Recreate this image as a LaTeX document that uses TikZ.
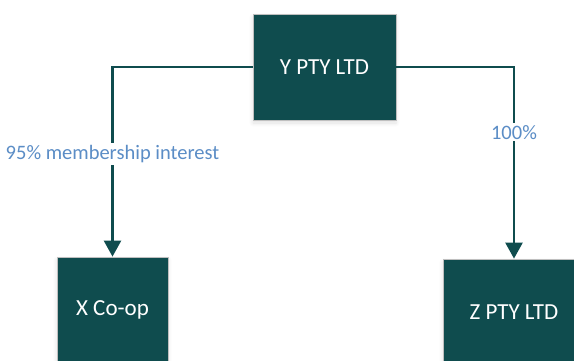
\documentclass[tikz,border=0pt]{standalone}
\usepackage{fontspec}
\setmainfont{Carlito}
\usetikzlibrary{arrows.meta,shadows.blur}
\definecolor{tealbox}{HTML}{0F4C4E}
\definecolor{steelblue}{HTML}{5B8DC6}

\begin{document}
\begin{tikzpicture}[x=1pt,y=-1pt,
    entity/.style={fill=tealbox,draw=black!25,line width=0.8pt,text=white,
      inner sep=0pt,minimum height=106pt,font=\fontsize{23}{26}\selectfont,
      blur shadow={shadow xshift=0pt,shadow yshift=-3pt,shadow blur steps=6,
        shadow opacity=12,shadow blur radius=4pt}},
    owns/.style={draw=tealbox,line width=2.5pt,
      -{Triangle[width=17pt,length=16pt]}},
    share/.style={fill=white,text=steelblue,inner sep=2pt,
      font=\fontsize{20.5}{23}\selectfont}]
  \useasboundingbox (0,0) rectangle (574,361);
  \node[entity,minimum width=143pt] (ytop) at (324.5,67) {Y PTY LTD};
  \node[entity,minimum width=111pt] (xcoop) at (112.5,310) {X Co-op};
  \node[entity,minimum width=142pt] (zpty) at (514,312) {Z PTY LTD};
  \draw[owns] (ytop.west) -| (xcoop.north)
    node[share,pos=0.73] {95\% membership interest};
  \draw[owns] (ytop.east) -| (zpty.north)
    node[share,pos=0.67] {100\%};
\end{tikzpicture}
\end{document}
